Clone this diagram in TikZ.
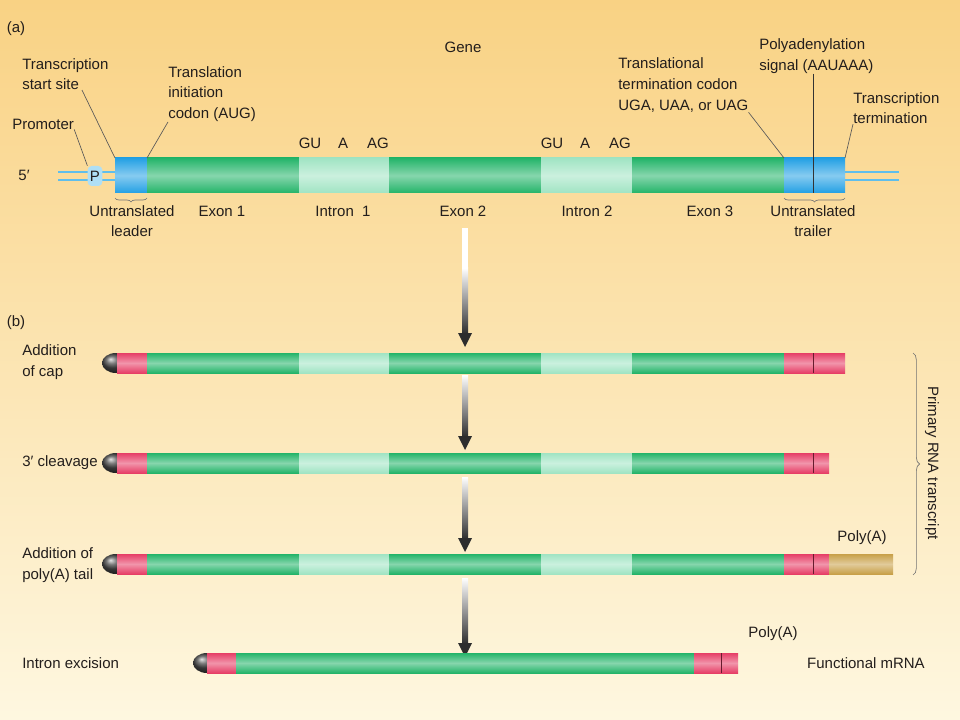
\documentclass[tikz,border=0pt]{standalone}
\usepackage{fontspec}
\setmainfont{Liberation Sans}
\usetikzlibrary{decorations.pathreplacing}
\definecolor{bgtop}{RGB}{249,210,132}
\definecolor{bgbot}{RGB}{254,247,224}
\definecolor{ink}{RGB}{35,30,28}
\definecolor{grn}{RGB}{35,180,105}
\definecolor{itr}{RGB}{160,228,195}
\definecolor{blu}{RGB}{35,160,228}
\definecolor{pnk}{RGB}{230,62,102}
\definecolor{tan}{RGB}{200,160,72}
\definecolor{tube}{RGB}{95,190,235}
\definecolor{arrowdk}{RGB}{45,45,45}
\newcommand{\bandpiece}[5]{\shade[top color=#5,bottom color=#5,middle color=#5!55!white] (#1,#3) rectangle (#2,#4);}

\begin{document}
\begin{tikzpicture}[x=0.75pt,y=-0.75pt,
  txt/.style={text=ink,font=\fontsize{11.25}{15.5}\selectfont,inner sep=0pt,align=left},
  lead/.style={draw=black!65,line width=0.5pt},
  brc/.style={draw=black!55,line width=0.5pt,decorate,decoration={brace,amplitude=#1}},
  divider/.style={draw=pnk!45!black,line width=0.6pt}]
    \shade[top color=bgtop,bottom color=bgbot] (0,0) rectangle (960,720);

    % (a) the gene
    \node[txt] (a) at (16,29) {(a)};
    \node[txt] (gene) at (463,47) {Gene};
    \node[txt] (five) at (24,175) {5′};
    \draw[tube,line width=1.9pt] (58,172) -- (115,172) (58,180) -- (115,180)
      (845,172) -- (899,172) (845,180) -- (899,180);
    \node[fill=tube!50!white,rounded corners=3pt,minimum width=11pt,minimum height=15pt,inner sep=0pt,
      text=ink,font=\fontsize{11.25}{13}\selectfont] (p) at (95,176) {P};
    \foreach \a/\b/\c in {115/147/blu,147/299/grn,299/389/itr,389/541/grn,541/632/itr,632/784/grn,784/845/blu}
      \bandpiece{\a}{\b}{158}{193}{\c};
    \coordinate (tssend) at (115,158);
    \coordinate (augend) at (147,158);
    \coordinate (stopend) at (784,158);
    \coordinate (pasend) at (813,193);
    \coordinate (ttend) at (845,158);

    \node[txt,anchor=west] (prom) at (12,124) {Promoter};
    \node[txt,anchor=west] (tss) at (22,74) {Transcription\\start site};
    \node[txt,anchor=west] (aug) at (168,94) {Translation\\initiation\\codon (AUG)};
    \node[txt,anchor=west] (stop) at (618,85) {Translational\\termination codon\\UGA, UAA, or UAG};
    \node[txt,anchor=west] (pas) at (759,56) {Polyadenylation\\signal (AAUAAA)};
    \node[txt,anchor=west] (tt) at (853,108) {Transcription\\termination};
    \draw[lead] (prom.south east) -- (p.north west)
      ([xshift=45pt]tss.south west) -- (tssend)
      (aug.south west) -- (augend)
      (stop.south east) -- (stopend)
      (tt.south west) -- (ttend);
    \draw[lead,draw=black!80] (pas.south west -| pasend) -- (pasend);

    \foreach \n/\x in {1/0,2/242}{
      \node[txt] (gu\n) at (310+\x,143) {GU};
      \node[txt] (br\n) at (343+\x,143) {A};
      \node[txt] (ag\n) at (378+\x,143) {AG};
    }
    \node[txt,align=center] (ldr) at (132,221) {Untranslated\\leader};
    \node[txt] (ex1) at (222,211) {Exon 1};
    \node[txt] (in1) at (343,211) {Intron\ \ 1};
    \node[txt] (ex2) at (463,211) {Exon 2};
    \node[txt] (in2) at (587,211) {Intron 2};
    \node[txt] (ex3) at (710,211) {Exon 3};
    \node[txt,align=center] (trl) at (813,221) {Untranslated\\trailer};
    \draw[brc=3pt] (147,198) -- (115,198);
    \draw[brc=3pt] (845,198) -- (784,198);

    % arrows
    \fill[white] (462,228) rectangle (468,268);
    \foreach \t/\b in {268/347,375/450,477/552,578/657}{
      \shade[top color=white,bottom color=arrowdk] (462,\t) rectangle (468,\b-13);
      \fill[arrowdk] (458,\b-14) -- (472,\b-14) -- (465,\b) -- cycle;
    }

    % (b) processing
    \node[txt] (b) at (16,323) {(b)};
    \foreach \y/\e in {353/845,453/829,554/829}{
      \shade[ball color=black!70] (116,\y+10) ellipse (14 and 10);
      \foreach \a/\b/\c in {117/147/pnk,147/299/grn,299/389/itr,389/541/grn,541/632/itr,632/784/grn}
        \bandpiece{\a}{\b}{\y}{\y+20}{\c};
      \bandpiece{784}{\e}{\y}{\y+20}{pnk};
      \draw[divider] (813,\y) -- (813,\y+20);
    }
    \bandpiece{829}{893}{554}{574}{tan};
    \shade[ball color=black!70] (207,663) ellipse (14 and 10);
    \foreach \a/\b/\c in {207/236/pnk,236/694/grn,694/738/pnk}
      \bandpiece{\a}{\b}{653}{673}{\c};
    \draw[divider] (721,653) -- (721,673);

    \node[txt,anchor=west] (capt) at (22,362) {Addition\\of cap};
    \node[txt,anchor=west] (cleav) at (22,463) {3′ cleavage};
    \node[txt,anchor=west] (tail) at (22,565) {Addition of\\poly(A) tail};
    \node[txt,anchor=west] (exc) at (22,663) {Intron excision};
    \node[txt] (polya1) at (862,538) {Poly(A)};
    \node[txt] (polya2) at (773,634) {Poly(A)};
    \node[txt] (mrna) at (866,663) {Functional mRNA};
    \draw[brc=5pt] (913,353) -- (913,575);
    \node[txt,rotate=-90] (prim) at (932,463) {Primary RNA transcript};
\end{tikzpicture}
\end{document}
